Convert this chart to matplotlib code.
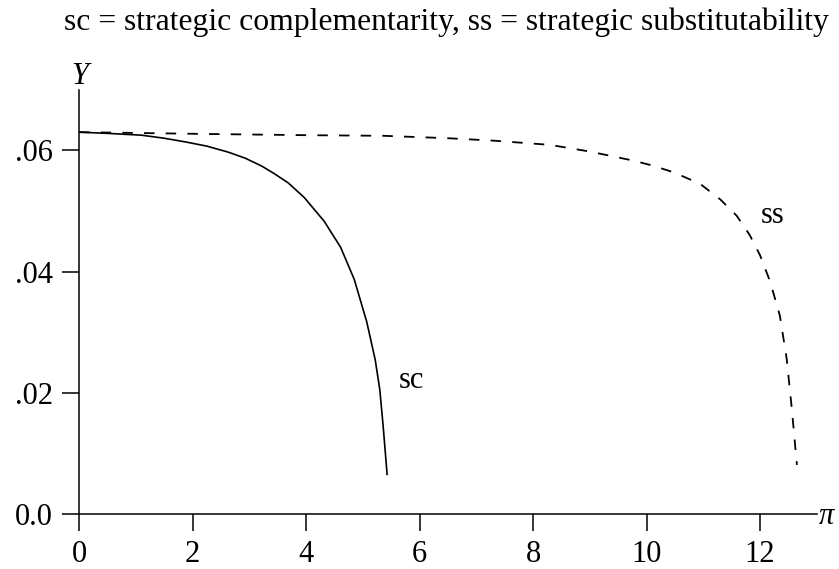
import matplotlib
matplotlib.use("Agg")
import matplotlib.pyplot as plt

# Data
sc_x = [0.0, 0.5, 1.10, 1.50, 1.87, 2.25, 2.63, 2.93, 3.22, 3.45, 3.69, 3.97, 4.32, 4.61, 4.85, 5.07, 5.22, 5.30, 5.36, 5.43]
sc_y = [0.0630, 0.0628, 0.0625, 0.0620, 0.0614, 0.0607, 0.0597, 0.0587, 0.0574, 0.0561, 0.0546, 0.0522, 0.0483, 0.0440, 0.0387, 0.0317, 0.0254, 0.0205, 0.0144, 0.0064]

ss_x = [0.0, 2.25, 4.0, 5.36, 6.5, 7.30, 8.30, 9.00, 9.77, 10.10, 10.47, 10.94, 11.30, 11.59, 11.82, 12.0, 12.18, 12.35, 12.47, 12.56, 12.65]
ss_y = [0.0630, 0.0627, 0.0625, 0.0624, 0.0620, 0.0616, 0.0609, 0.0598, 0.0583, 0.0575, 0.0564, 0.0545, 0.0519, 0.0492, 0.0460, 0.0427, 0.0383, 0.0327, 0.0256, 0.0174, 0.0081]

x_ticks = [0, 2, 4, 6, 8, 10, 12]
x_tick_labels = ["0", "2", "4", "6", "8", "10", "12"]
y_ticks = [0.0, 0.02, 0.04, 0.06]
y_tick_labels = ["0.0", ".02", ".04", ".06"]

title = "sc = strategic complementarity, ss = strategic substitutability"

plt.rcParams['font.family'] = ['Liberation Serif', 'DejaVu Serif']
FS = 22

fig = plt.figure(figsize=(8.39, 5.69), dpi=100)
ax = fig.add_axes([0.0942, 0.0967, 0.8793, 0.7456])

ax.plot(sc_x, sc_y, color='black', lw=1.2, solid_capstyle='butt', solid_joinstyle='round')
ax.plot(ss_x, ss_y, color='black', lw=1.3, dashes=(5.8, 6.2))

ax.set_xlim(0, 13)
ax.set_ylim(0, 0.07)
ax.set_xticks(x_ticks)
ax.set_xticklabels(x_tick_labels)
ax.set_yticks(y_ticks)
ax.set_yticklabels(y_tick_labels)

for s in ['top', 'right']:
    ax.spines[s].set_visible(False)
for s in ['left', 'bottom']:
    ax.spines[s].set_linewidth(1.1)

ax.tick_params(axis='both', direction='out', length=12, width=1.1, labelsize=FS, color='black')
ax.tick_params(axis='x', pad=7)
ax.tick_params(axis='y', pad=7)

ax.text(5.85, 0.0221, "sc", fontsize=FS, ha='center', va='center')
ax.text(12.23, 0.0493, "ss", fontsize=FS, ha='center', va='center')

fig.text(446 / 839, 1 - 22 / 569, title, fontsize=22.8, ha='center', va='center')
fig.text(80 / 839, 1 - 76 / 569, "Y", fontsize=FS, ha='center', va='center', fontstyle='italic')
fig.text(826 / 839, 1 - 516 / 569, "π", fontsize=FS, ha='center', va='center', fontstyle='italic')

fig.savefig("out.png", dpi=100)
